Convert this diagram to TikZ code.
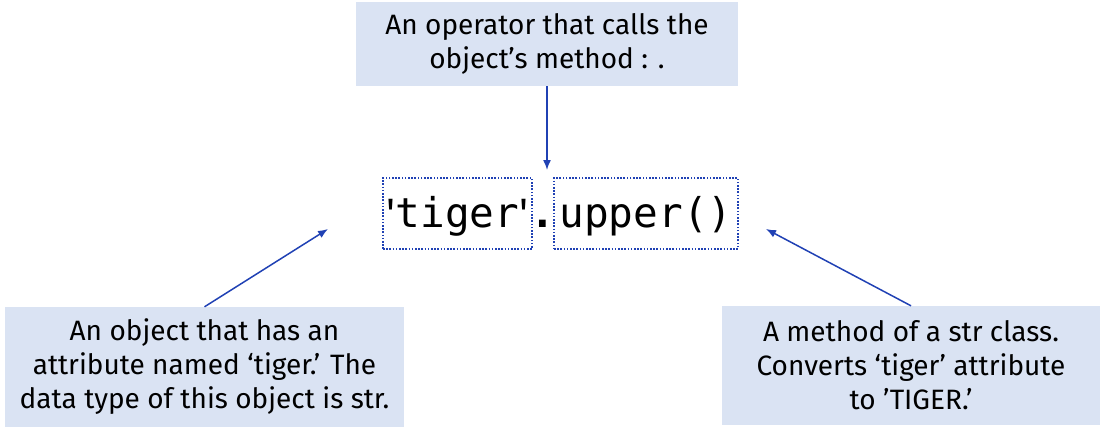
\documentclass[tikz,border=0pt]{standalone}
\usepackage{fontspec}
\setmainfont{Fira Sans}
\setmonofont{DejaVu Sans Mono}
\usetikzlibrary{arrows.meta,positioning}
\definecolor{notefill}{HTML}{DAE3F3}
\definecolor{arrblue}{HTML}{2041B4}

\begin{document}
\begin{tikzpicture}[x=1pt, y=-1pt,
        note/.style={rectangle, fill=notefill, align=center, inner sep=0pt, font=\fontsize{28}{34}\selectfont},
        code/.style={rectangle, draw=arrblue, dash pattern=on 1.6pt off 1.6pt, line width=1.6pt, inner sep=0pt, text height=49pt, text depth=22pt, anchor=base, font=\fontsize{41}{41}\ttfamily},
        arr/.style={-{Latex[length=10pt,width=8pt]}, arrblue, line width=1.5pt}
    ]
        \useasboundingbox (0,0) rectangle (1101,437);

        % Notes
        \node[note, minimum width=382pt, minimum height=84pt] (op) at (547,44) {An operator that calls the\\object’s method : .};
        \node[note, minimum width=399pt, minimum height=120pt] (obj) at (204.5,367) {An object that has an\\attribute named ‘tiger.’ The\\data type of this object is str.};
        \node[note, minimum width=378pt, minimum height=119pt] (meth) at (911,365.5) {A method of a str class.\\Converts ‘tiger’ attribute\\to ’TIGER.’};

        % Code
        \node[code, minimum width=149pt] (tiger) at (457.5,227) {{\rmfamily\textquotesingle}tiger{\rmfamily\textquotesingle}};
        \node[code, minimum width=184pt] (upper) at (646,227) {upper()};
        \node[font=\fontsize{41}{41}\ttfamily\bfseries, inner sep=0pt, anchor=base] (dot) at (543,227) {.};

        % Arrows
        \coordinate (opend) at (547,170);
        \coordinate (objend) at (328,229);
        \coordinate (methend) at (766,229);
        \draw[arr] (op.south) -- (opend);
        \draw[arr] (obj.north) -- (objend);
        \draw[arr] (meth.north) -- (methend);
    \end{tikzpicture}
\end{document}
